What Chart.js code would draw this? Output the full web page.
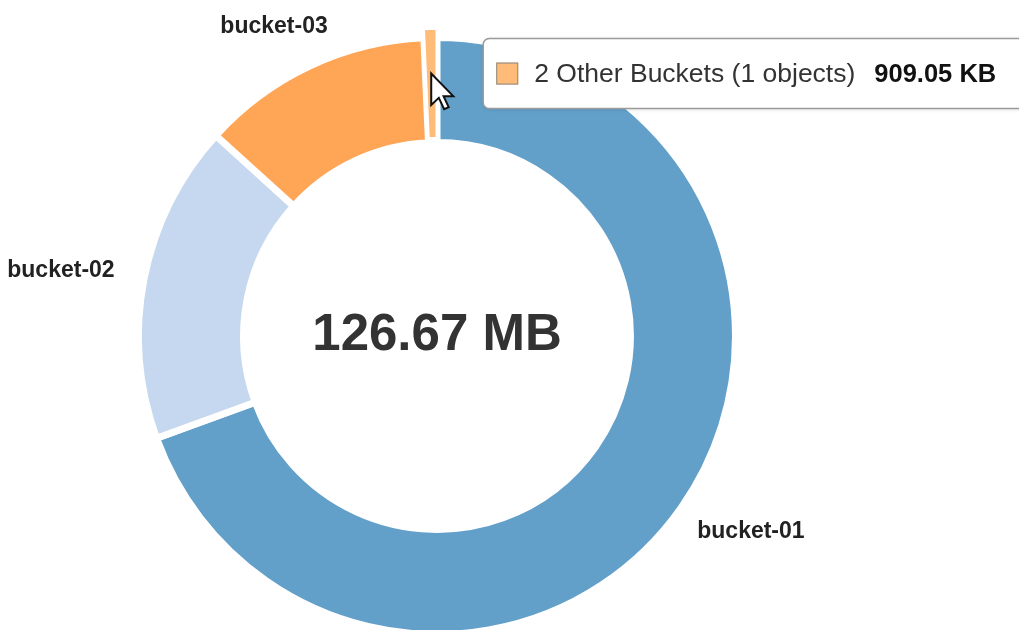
<!DOCTYPE html>
<html>
<head>
<meta charset="utf-8">
<script src="https://cdn.jsdelivr.net/npm/chart.js@4.4.1/dist/chart.umd.min.js"></script>
<style>
  html, body { margin: 0; padding: 0; background: #fff; }
  #wrap { position: relative; width: 1019px; height: 630px; }
</style>
</head>
<body>
<div id="wrap"><canvas id="usage"></canvas></div>
<script>
// Storage per bucket, sizes in KB. Small buckets are folded into one slice.
const bucketNames = ['bucket-01', 'bucket-02', 'bucket-03', '2 Other Buckets'];
const bucketSizesKB = [90070, 22414, 16317, 909.05];
const bucketObjects = [null, null, null, 1];
const bucketColors = ['#62a0ca', '#c6d8ef', '#ffa556', '#ffbb78'];

const hoveredIndex = 3;      // slice under the pointer
const labelMinShare = 0.05;  // slices smaller than this get no outside label

const FONT = '"Liberation Sans", Arial, Helvetica, sans-serif';

function fmtSize(kb) {
  if (kb >= 1024) return (kb / 1024).toFixed(2) + ' MB';
  return kb.toFixed(2) + ' KB';
}

const totalKB = bucketSizesKB.reduce((a, b) => a + b, 0);

// Hovered slice grows outward (more on the outer edge than the inner one).
const growHovered = {
  id: 'grow-hovered',
  afterDatasetUpdate(chart, args) {
    const arc = args.meta.data[hoveredIndex];
    if (!arc) return;
    arc.outerRadius += 9;
    arc.innerRadius += 4;
  },
};

const centerTotal = {
  id: 'center-total',
  afterDatasetsDraw(chart) {
    const arc = chart.getDatasetMeta(0).data[0];
    if (!arc) return;
    const ctx = chart.ctx;
    ctx.save();
    ctx.font = `bold 51px ${FONT}`;
    ctx.fillStyle = '#333';
    ctx.textAlign = 'center';
    ctx.textBaseline = 'middle';
    ctx.fillText(fmtSize(totalKB), arc.x, arc.y);
    ctx.restore();
  },
};

// Names outside the ring: the label box sits just outward of a point on the slice's mid angle.
const sliceLabels = {
  id: 'slice-labels',
  afterDatasetsDraw(chart) {
    const meta = chart.getDatasetMeta(0);
    const ctx = chart.ctx;
    ctx.save();
    ctx.font = `bold 23px ${FONT}`;
    ctx.fillStyle = '#222';
    ctx.textAlign = 'center';
    ctx.textBaseline = 'middle';
    meta.data.forEach((arc, i) => {
      if (bucketSizesKB[i] / totalKB < labelMinShare) return;
      const mid = (arc.startAngle + arc.endAngle) / 2;
      const r = arc.outerRadius + 31;
      const ax = arc.x + Math.cos(mid) * r;
      const ay = arc.y + Math.sin(mid) * r;
      const w = ctx.measureText(bucketNames[i]).width;
      const h = 24;
      ctx.fillText(bucketNames[i], ax + Math.cos(mid) * w / 2, ay + Math.sin(mid) * h / 2);
    });
    ctx.restore();
  },
};

// Tooltip for the hovered slice plus the mouse pointer itself.
const hoverTip = {
  id: 'hover-tip',
  afterDraw(chart) {
    const arc = chart.getDatasetMeta(0).data[hoveredIndex];
    if (!arc) return;
    const ctx = chart.ctx;
    const mid = (arc.startAngle + arc.endAngle) / 2;
    const pr = arc.outerRadius - 45;
    const px = arc.x + Math.cos(mid) * pr;
    const py = arc.y + Math.sin(mid) * pr;

    const name = bucketNames[hoveredIndex] +
      (bucketObjects[hoveredIndex] != null ? ` (${bucketObjects[hoveredIndex]} objects)` : '');
    const value = fmtSize(bucketSizesKB[hoveredIndex]);

    ctx.save();
    const regFont = `26.5px ${FONT}`;
    const boldFont = `bold 25.5px ${FONT}`;
    ctx.font = regFont;
    const wName = ctx.measureText(name).width;
    ctx.font = boldFont;
    const wVal = ctx.measureText(value).width;

    const bx = px + 52, bh = 70, by = py - bh / 2;
    const bw = 51 + wName + 19 + wVal + 34;
    ctx.shadowColor = 'rgba(0,0,0,0.12)';
    ctx.shadowBlur = 4;
    ctx.shadowOffsetY = 1;
    ctx.beginPath();
    ctx.roundRect(bx, by, bw, bh, 6);
    ctx.fillStyle = '#fff';
    ctx.fill();
    ctx.shadowColor = 'transparent';
    ctx.lineWidth = 1.5;
    ctx.strokeStyle = '#9a9a9a';
    ctx.stroke();

    // colour swatch
    ctx.fillStyle = bucketColors[hoveredIndex];
    ctx.fillRect(bx + 13, py - 11, 22, 22);
    ctx.lineWidth = 1;
    ctx.strokeStyle = '#8a8a8a';
    ctx.strokeRect(bx + 13.5, py - 10.5, 21, 21);

    ctx.textBaseline = 'middle';
    ctx.textAlign = 'left';
    ctx.font = regFont;
    ctx.fillStyle = '#333';
    ctx.fillText(name, bx + 51, py + 1);
    ctx.font = boldFont;
    ctx.fillStyle = '#111';
    ctx.fillText(value, bx + 51 + wName + 19, py + 1);

    // arrow pointer
    const pts = [[0, 0], [0, 16.5], [4, 12.8], [6.8, 18.8], [9.2, 17.7], [6.5, 11.9], [11.6, 11.9]];
    const s = 1.9;
    ctx.beginPath();
    pts.forEach(([x, y], k) => {
      const X = px + x * s, Y = py + y * s;
      if (k === 0) ctx.moveTo(X, Y); else ctx.lineTo(X, Y);
    });
    ctx.closePath();
    ctx.fillStyle = '#fff';
    ctx.fill();
    ctx.lineWidth = 2;
    ctx.lineJoin = 'miter';
    ctx.strokeStyle = '#111';
    ctx.stroke();
    ctx.restore();
  },
};

new Chart(document.getElementById('usage'), {
  type: 'doughnut',
  data: {
    labels: bucketNames,
    datasets: [{
      data: bucketSizesKB,
      backgroundColor: bucketColors,
      borderColor: '#fff',
      // thinner edge on the hovered slice so the sliver stays visible
      borderWidth: bucketNames.map((_, i) => (i === hoveredIndex ? 3 : 7)),
      hoverOffset: 0,
    }],
  },
  options: {
    responsive: true,
    maintainAspectRatio: false,
    animation: false,
    events: [],
    radius: 298.5,
    cutout: '64.8%',
    layout: { padding: { top: 42, bottom: 0, left: 0, right: 145 } },
    plugins: {
      legend: { display: false },
      tooltip: { enabled: false },
    },
  },
  plugins: [growHovered, centerTotal, sliceLabels, hoverTip],
});
</script>
</body>
</html>
